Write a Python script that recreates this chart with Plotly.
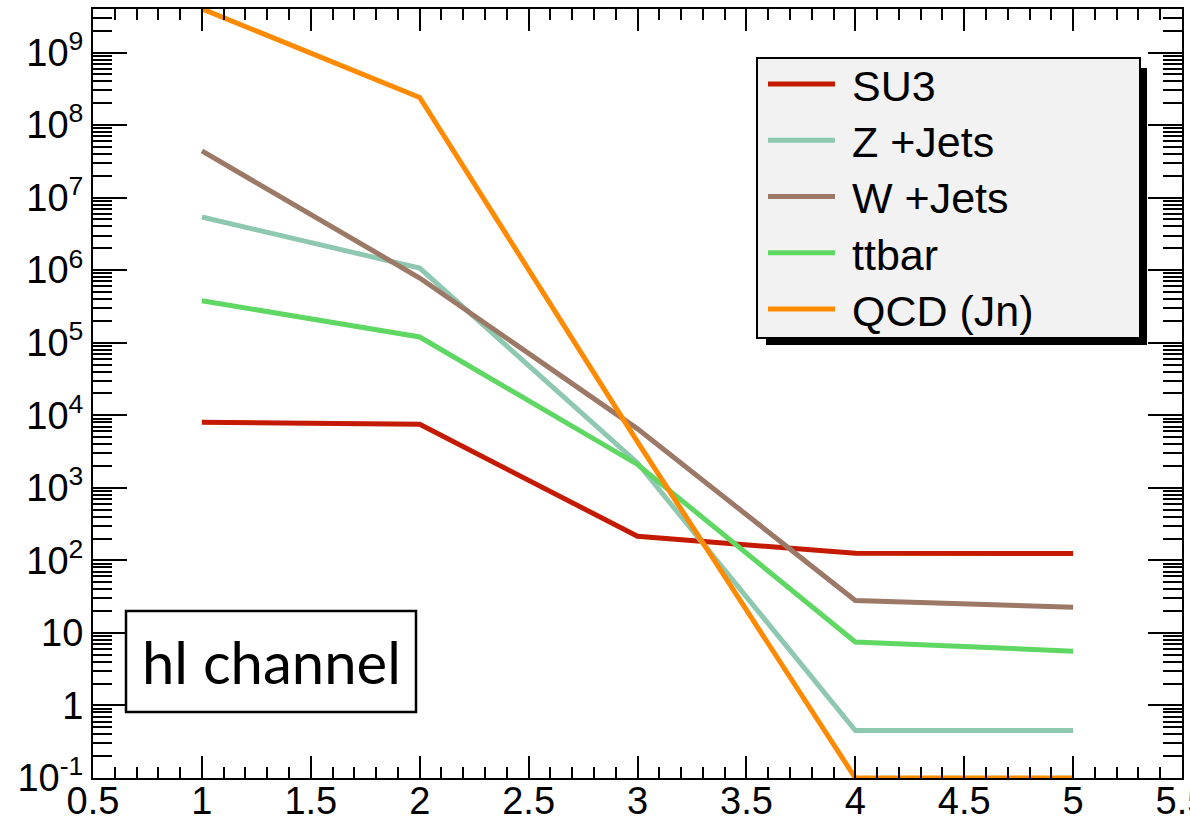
import plotly.graph_objects as go

# Jet multiplicity bins and event yields per sample
n_jets = [1, 2, 3, 4, 5]
su3 = [8.0e3, 7.5e3, 215, 125, 124]
z_jets = [5.4e6, 1.07e6, 2.2e3, 0.45, 0.45]
w_jets = [4.4e7, 7.8e5, 6.5e3, 28, 22.5]
ttbar = [3.8e5, 1.2e5, 2.1e3, 7.5, 5.6]
qcd = [4.0e9, 2.4e8, 4.3e3, 0.1, 0.1]

names = ["SU3", "Z +Jets", "W +Jets", "ttbar", "QCD (Jn)"]
series = [su3, z_jets, w_jets, ttbar, qcd]
colors = ["#c41a02", "#8fc8b0", "#9c7866", "#5ed763", "#ff8a00"]

y_exponents = list(range(-1, 10))
y_tickvals = [10.0 ** e for e in y_exponents]
y_ticktext = []
for e in y_exponents:
    if e == 0:
        y_ticktext.append("1")
    elif e == 1:
        y_ticktext.append("10")
    else:
        y_ticktext.append("10<sup>%d</sup>" % e)

W, H = 1190, 821
ML, MR, MT, MB = 93, 8, 9, 43
PW, PH = W - ML - MR, H - MT - MB


def px(x):
    return (x - ML) / PW


def py(y):
    return (H - MB - y) / PH


fig = go.Figure()
for name, ys, c in zip(names, series, colors):
    fig.add_trace(go.Scatter(x=n_jets, y=ys, mode="lines", name=name,
                             line=dict(color=c, width=5), showlegend=False))

sans = "Liberation Sans, Arial, sans-serif"

fig.update_xaxes(range=[0.5, 5.5], tickmode="linear", tick0=0.5, dtick=0.5,
                 ticks="inside", ticklen=22, tickwidth=2, tickcolor="black",
                 minor=dict(dtick=0.1, ticks="inside", ticklen=11, tickwidth=1.5,
                            tickcolor="black"),
                 showline=True, linewidth=2, linecolor="black", mirror="allticks",
                 showgrid=False, zeroline=False,
                 tickfont=dict(family=sans, size=38, color="black"),
                 ticklabelstandoff=-12, ticklabeloverflow="allow",
                 automargin=False)
fig.update_yaxes(type="log", range=[-1, 9.6], tickmode="array",
                 tickvals=y_tickvals, ticktext=y_ticktext,
                 ticks="inside", ticklen=34, tickwidth=2, tickcolor="black",
                 minor=dict(dtick="D1", ticks="inside", ticklen=19, tickwidth=1.5,
                            tickcolor="black"),
                 showline=True, linewidth=2, linecolor="black", mirror="allticks",
                 showgrid=False, zeroline=False,
                 tickfont=dict(family=sans, size=38, color="black"),
                 ticklabeloverflow="allow",
                 automargin=False)

shapes = []
annotations = []

# legend: shadow, box, sample lines and labels
shapes.append(dict(type="rect", xref="paper", yref="paper",
                   x0=px(766), x1=px(1147), y0=py(345), y1=py(68),
                   fillcolor="black", line=dict(width=0), layer="above"))
shapes.append(dict(type="rect", xref="paper", yref="paper",
                   x0=px(757), x1=px(1140), y0=py(338), y1=py(58),
                   fillcolor="#f2f2f2", line=dict(color="black", width=2),
                   layer="above"))
for i, (name, c) in enumerate(zip(names, colors)):
    yy = 84 + 56.25 * i
    shapes.append(dict(type="line", xref="paper", yref="paper",
                       x0=px(768), x1=px(835), y0=py(yy), y1=py(yy),
                       line=dict(color=c, width=5), layer="above"))
    annotations.append(dict(xref="paper", yref="paper", x=px(850), y=py(yy + 2),
                            xanchor="left", yanchor="middle", showarrow=False,
                            text=name,
                            font=dict(family=sans, size=43, color="black")))

# channel label box
shapes.append(dict(type="rect", xref="paper", yref="paper",
                   x0=px(126), x1=px(416), y0=py(712), y1=py(611),
                   fillcolor="white", line=dict(color="black", width=2.5),
                   layer="above"))
annotations.append(dict(xref="paper", yref="paper", x=px(271), y=py(661),
                        xanchor="center", yanchor="middle", showarrow=False,
                        text="hl channel",
                        font=dict(family="Lato, Noto Sans, sans-serif", size=58,
                                  color="black")))

fig.update_layout(template="none", width=W, height=H,
                  margin=dict(l=ML, r=MR, t=MT, b=MB, pad=0),
                  paper_bgcolor="white", plot_bgcolor="white",
                  shapes=shapes, annotations=annotations, showlegend=False)

fig.write_html("out.html")
